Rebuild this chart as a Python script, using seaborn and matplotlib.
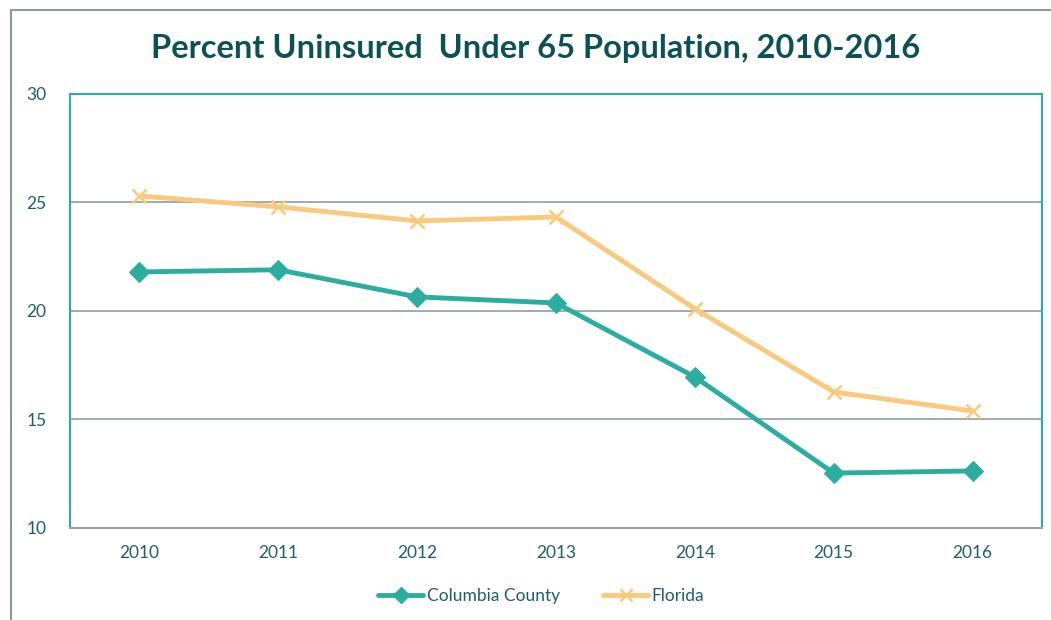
import pandas as pd
import matplotlib.pyplot as plt
import seaborn as sns
from matplotlib.patches import Rectangle
from matplotlib.lines import Line2D

# data
years = ["2010", "2011", "2012", "2013", "2014", "2015", "2016"]
columbia = [21.8, 21.9, 20.65, 20.37, 16.96, 12.53, 12.63]
florida = [25.3, 24.8, 24.15, 24.33, 20.1, 16.27, 15.39]

df = pd.DataFrame({"Year": years, "Columbia County": columbia, "Florida": florida})

teal = "#2BAE9F"
orange = "#FAC97D"
text_col = "#1E5E68"
grid_col = "#9AA4A8"

sns.set_style("white")
plt.rcParams["font.family"] = ["Lato", "DejaVu Sans"]

fig = plt.figure(figsize=(10.51, 6.2), dpi=100)
ax = fig.add_axes([70 / 1051, 1 - 528 / 620, (1042 - 70) / 1051, (528 - 94) / 620])

sns.lineplot(data=df, x="Year", y="Columbia County", color=teal, marker="D",
             markersize=10, markeredgecolor=teal, linewidth=3.5, ax=ax, zorder=3)
sns.lineplot(data=df, x="Year", y="Florida", color=orange, marker="x",
             markersize=10, markeredgewidth=1.8, markeredgecolor=orange,
             linewidth=3.5, ax=ax, zorder=3)

ax.set_xlim(-0.5, 6.5)
ax.set_ylim(10, 30)
ax.set_yticks([10, 15, 20, 25, 30])
ax.set_xlabel("")
ax.set_ylabel("")
ax.tick_params(axis="both", length=0, labelsize=12.5, colors=text_col)
ax.tick_params(axis="y", pad=17)
ax.tick_params(axis="x", pad=12)
for y in [15, 20, 25]:
    ax.axhline(y, color=grid_col, lw=1.3, zorder=0)
for side in ["left", "top", "right"]:
    ax.spines[side].set_color(teal)
    ax.spines[side].set_linewidth(1.5)
ax.spines["bottom"].set_color(grid_col)
ax.spines["bottom"].set_linewidth(1.5)

fig.suptitle("Percent Uninsured  Under 65 Population, 2010-2016", x=0.51, y=0.945,
             fontsize=23.5, fontweight="bold", color="#0D5157")

# legend
handles = [
    Line2D([], [], color=teal, lw=3.5, marker="D", markersize=8, markeredgecolor=teal),
    Line2D([], [], color=orange, lw=3.5, marker="x", markersize=9, markeredgewidth=1.8),
]
fig.legend(handles, ["Columbia County", "Florida"], loc="center", ncol=2,
           bbox_to_anchor=(0.515, 1 - 596 / 620), frameon=False, fontsize=12.5,
           labelcolor=text_col, handlelength=2.6, handletextpad=0.2, columnspacing=2.5)

# outer chart border (partly cut off in reference)
fig.patches.append(Rectangle((11 / 1051, -0.1), 1.2, 1 - 10 / 620 + 0.1,
                             transform=fig.transFigure, fill=False,
                             edgecolor="#8C979C", lw=1.5))

fig.savefig("out.png", dpi=100)
